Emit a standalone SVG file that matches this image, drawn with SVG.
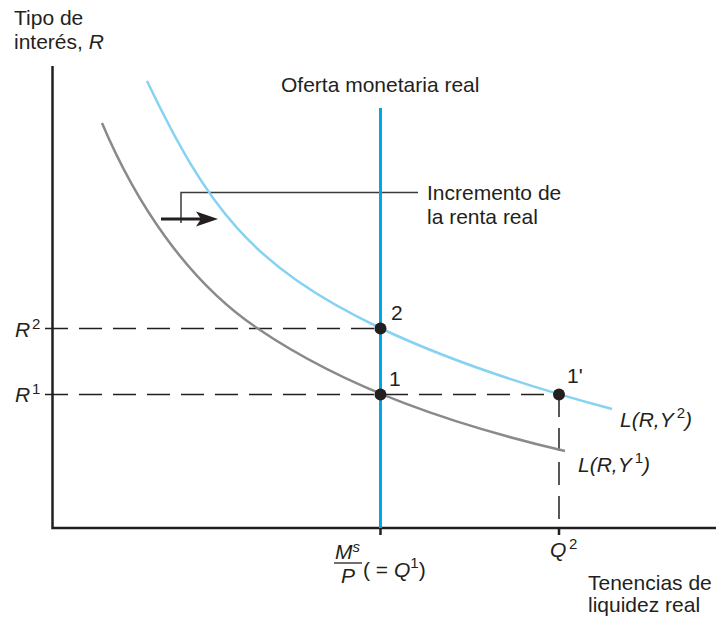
<svg xmlns="http://www.w3.org/2000/svg" width="725" height="618" viewBox="0 0 725 618">
<style>
text{font-family:"Liberation Sans",Arial,Helvetica,sans-serif;font-size:21px;fill:#231f20}
.it{font-style:italic}
.sup{font-size:15px;font-style:normal}
.axis{stroke:#231f20;stroke-width:2.5;fill:none}
.dash{stroke:#231f20;stroke-width:1.5;stroke-dasharray:23 11;fill:none}
.dot{fill:#231f20}
</style>
<rect width="725" height="618" fill="#fff"/>
<g id="labels-axes">
<text x="14" y="25">Tipo de</text>
<text x="14" y="49">interés, <tspan class="it">R</tspan></text>
<text x="588" y="590">Tenencias de</text>
<text x="588" y="612">liquidez real</text>
</g>
<g id="axes">
<path class="axis" d="M52.5,66 V528 H716"/>
<path class="axis" stroke-width="1.5" d="M380.5,528 V535 M559,528 V535"/>
</g>
<g id="connectors">
<path class="dash" d="M45,328.5 H380"/>
<path class="dash" d="M45,394.5 H559"/>
<path class="dash" d="M559,394 V528"/>
<path d="M181,223 V192.5 H418" stroke="#3a3a3a" stroke-width="1.5" fill="none"/>
<path d="M161,219 H205" stroke="#231f20" stroke-width="2.8"/>
<polygon points="218,219 196,211.5 201,219 196,226.5" fill="#231f20"/>
</g>
<g id="curve-L1">
<path d="M102,123 C135,201 186,280 257,328 C348,390 458,426 565,451" stroke="#8a8a8c" stroke-width="2.5" fill="none"/>
</g>
<g id="curve-L2">
<path d="M147,81 C207,206 250,266 380,328 C454,363 533,388 612,409" stroke="#86d2f2" stroke-width="2.5" fill="none"/>
</g>
<g id="money-supply">
<path d="M380.5,108 V528" stroke="#00a6e6" stroke-width="3"/>
<text x="281" y="92">Oferta monetaria real</text>
</g>
<g id="point-2">
<circle class="dot" cx="380.5" cy="328.5" r="6"/>
<text x="391" y="320">2</text>
</g>
<g id="point-1">
<circle class="dot" cx="380.5" cy="394.5" r="6"/>
<text x="389" y="386">1</text>
</g>
<g id="point-1p">
<circle class="dot" cx="559" cy="394.5" r="6"/>
<text x="567" y="383">1'</text>
</g>
<g id="label-annotation">
<text x="427" y="200">Incremento de</text>
<text x="427" y="224">la renta real</text>
</g>
<g id="label-R2"><text class="it" x="15" y="337">R</text><text class="sup" x="32" y="329">2</text></g>
<g id="label-R1"><text class="it" x="15" y="402">R</text><text class="sup" x="32" y="394">1</text></g>
<g id="label-L2"><text class="it" x="620" y="427">L(R,Y<tspan class="sup" dy="-9" dx="3">2</tspan><tspan dy="9">)</tspan></text></g>
<g id="label-L1"><text class="it" x="578" y="472">L(R,Y<tspan class="sup" dy="-9" dx="3">1</tspan><tspan dy="9">)</tspan></text></g>
<g id="label-Q2"><text class="it" x="550" y="557">Q</text><text class="sup" x="569" y="549">2</text></g>
<g id="label-Ms">
<text class="it" x="335" y="559">M<tspan class="sup" dy="-7" style="font-style:italic">s</tspan></text>
<path d="M334,563 H362" stroke="#231f20" stroke-width="1.3"/>
<text class="it" x="341" y="583">P</text>
<text x="363" y="577">( = <tspan class="it">Q</tspan><tspan class="sup" dy="-9">1</tspan><tspan dy="9">)</tspan></text>
</g>
</svg>
